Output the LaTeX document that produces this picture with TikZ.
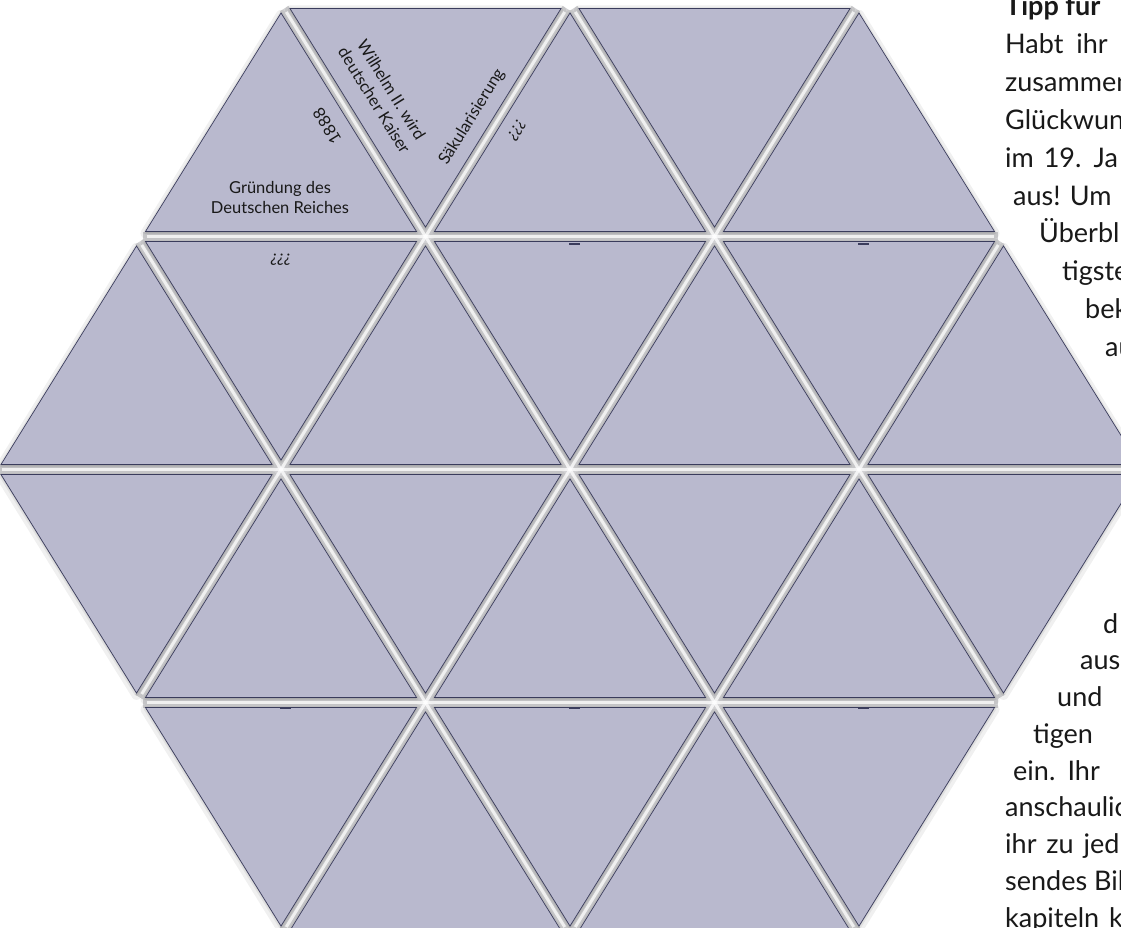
\documentclass[tikz,border=0pt]{standalone}
\usepackage{fontspec}
\setmainfont{Lato}
\definecolor{tilefill}{RGB}{185,185,206}
\definecolor{tileedge}{RGB}{58,60,92}
\definecolor{gapgray}{RGB}{210,210,212}
\definecolor{ink}{RGB}{25,25,25}

% one tile, shrunk around its incentre so that a gap stays free
\newcommand{\tileup}[3][]{%
  \begin{scope}[shift={(#2,#3+152.6)},scale=0.938]
    \path[#1] (0,-152.6) -- (144.5,80.4) -- (-144.5,80.4) -- cycle;
  \end{scope}}
\newcommand{\tiledown}[3][]{%
  \begin{scope}[shift={(#2,#3+80.4)},scale=0.938]
    \path[#1] (-144.5,-80.4) -- (144.5,-80.4) -- (0,152.6) -- cycle;
  \end{scope}}
\newcommand{\alltiles}[1]{%
  \foreach \x in {281,570,859} {\tileup[#1]{\x}{3.5}}
  \foreach \x in {425.5,714.5} {\tiledown[#1]{\x}{3.5}}
  \foreach \x in {136.5,425.5,714.5,1003.5} {\tileup[#1]{\x}{236.5}}
  \foreach \x in {281,570,859} {\tiledown[#1]{\x}{236.5}}
  \foreach \x in {136.5,425.5,714.5,1003.5} {\tiledown[#1]{\x}{469.5}}
  \foreach \x in {281,570,859} {\tileup[#1]{\x}{469.5}}
  \foreach \x in {281,570,859} {\tiledown[#1]{\x}{702.5}}
  \foreach \x in {425.5,714.5} {\tileup[#1]{\x}{702.5}}}

\begin{document}
\begin{tikzpicture}[
    x=1pt, y=-1pt,
    tile/.style={fill=tilefill, draw=tileedge, line width=0.7pt},
    tileshadow/.style={fill=black, draw=black, opacity=0.06,
      line width=#1, line join=round},
    gap/.style={draw=gapgray, line width=10pt,
      shorten <=6pt, shorten >=6pt},
    shine/.style={draw=white, line width=3pt, opacity=0.75,
      shorten <=10pt, shorten >=10pt},
    notch/.style={fill=tileedge},
    lbl/.style={font=\fontsize{16.5}{20}\selectfont, text=ink,
      inner sep=0pt, align=center},
    body/.style={anchor=base west, font=\fontsize{27}{32}\selectfont,
      text=ink, inner sep=0pt}
  ]
  \fill[white] (0,0) rectangle (1121,928);
  \useasboundingbox (0,0) rectangle (1121,928);

  \node[body, font=\fontsize{27}{32}\selectfont\bfseries] (tipp) at (1005,16) {Tipp für};
  \node[body] (habt) at (1005,53.8) {Habt\hspace{6pt} ihr};
  \node[body] (zusammen) at (1005,91.6) {zusammen};
  \node[body] (glueck) at (1005,129.4) {Glückwun};
  \node[body] (jh) at (1005,167.2) {im\hspace{3pt} 19.\hspace{3pt} Ja};
  \node[body] (um) at (1013,205) {aus! Um};
  \node[body] (ueber) at (1039,242.8) {Überbl};
  \node[body] (tigste) at (1062,280.6) {tigste};
  \node[body] (bek) at (1085,318.4) {bek};
  \node[body] (au) at (1105,356.2) {au};

  \node[body] (d) at (1103,633) {d};
  \node[body] (aus) at (1080,669.75) {aus};
  \node[body] (und) at (1057,706.5) {und};
  \node[body] (tigen) at (1033,743.25) {tigen};
  \node[body] (ein) at (1013,780) {ein.\hspace{3pt} Ihr};
  \node[body] (anschau) at (1005,816.75) {anschaulic};
  \node[body] (jed) at (1005,853.5) {ihr\hspace{3pt} zu\hspace{3pt} jed};
  \node[body] (bild) at (1005,890.25) {sendes Bil};
  \node[body] (kap) at (1005,927) {kapiteln\hspace{3pt} k};

  \draw[gap] (281,3.5) -- (859,935.5);
  \draw[gap] (570,3.5) -- (1003.5,702.5);
  \draw[gap] (136.5,236.5) -- (570,935.5);
  \draw[gap] (859,3.5) -- (281,935.5);
  \draw[gap] (570,3.5) -- (136.5,702.5);
  \draw[gap] (1003.5,236.5) -- (570,935.5);
  \draw[gap] (136.5,236.5) -- (1003.5,236.5);
  \draw[gap] (-8,469.5) -- (1148,469.5);
  \draw[gap] (136.5,702.5) -- (1003.5,702.5);

  \alltiles{tileshadow=10pt, yshift=-2pt}
  \alltiles{tileshadow=4pt, yshift=-1pt}

  \draw[shine] (281,3.5) -- (859,935.5);
  \draw[shine] (570,3.5) -- (1003.5,702.5);
  \draw[shine] (136.5,236.5) -- (570,935.5);
  \draw[shine] (859,3.5) -- (281,935.5);
  \draw[shine] (570,3.5) -- (136.5,702.5);
  \draw[shine] (1003.5,236.5) -- (570,935.5);
  \draw[shine] (136.5,236.5) -- (1003.5,236.5);
  \draw[shine] (-8,469.5) -- (1148,469.5);
  \draw[shine] (136.5,702.5) -- (1003.5,702.5);

  \alltiles{tile}

  \foreach \x in {570,859} {\fill[notch] (\x-1,242.5) rectangle (\x+10,244.5);}
  \foreach \x in {281,570,859} {\fill[notch] (\x-1,707) rectangle (\x+10,709);}

  \node[lbl, rotate=121.8] (jahr) at (327,126) {1888};
  \node[lbl] (gruendung) at (280,197) {Gründung des\\Deutschen Reiches};
  \node[lbl, rotate=-58.2] (wilhelm) at (383,95) {Wilhelm II. wird\\deutscher Kaiser};
  \node[lbl, rotate=58.2] (saekular) at (472,117) {Säkularisierung};
  \node[lbl, rotate=58.2, font=\fontsize{16.5}{20}\selectfont\itshape] (frage) at (517,130) {¿¿¿};
  \node[lbl, font=\fontsize{16.5}{20}\selectfont\itshape] (fragen) at (281,260) {¿¿¿};
\end{tikzpicture}
\end{document}
